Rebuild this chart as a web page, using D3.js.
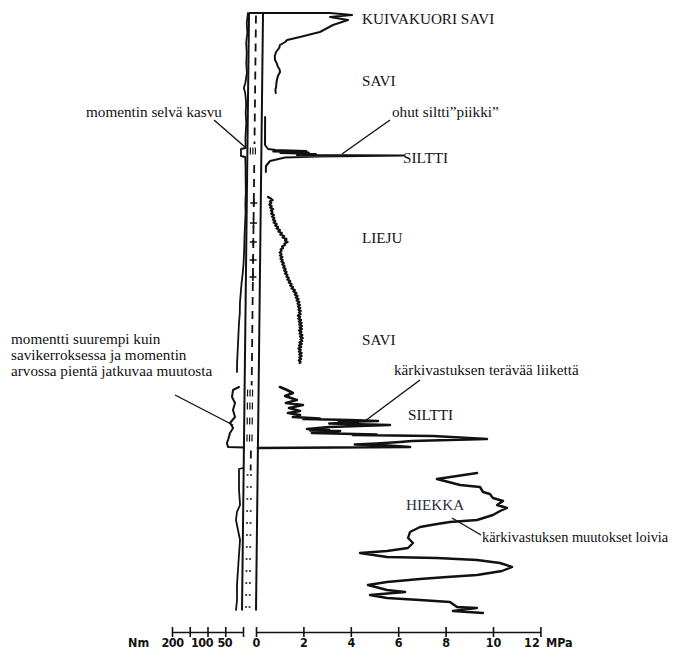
<!DOCTYPE html>
<html><head><meta charset="utf-8">
<script src="https://cdn.jsdelivr.net/npm/d3@7"></script>
<style>body{margin:0;background:#fff}svg{display:block}</style>
</head><body>
<svg id="c" width="678" height="659"></svg>
<script>
// ---- DATA (depth [m-units], value) ----
// cone resistance qc [MPa]
const qcTop = [[0,0],[0,2.83],[0.04,3.76],[0.08,2.83],[0.14,3.59],[0.24,2.96],[0.38,2.41],[0.48,1.57],[0.54,1.03],[0.58,0.95],[0.64,0.73],[0.70,0.70],[0.78,0.57],[0.86,0.52],[0.94,0.53],[1.0,0.6],[1.08,0.66],[1.12,0.72],[1.18,0.75],[1.26,0.66],[1.34,0.62],[1.4,0.6],[1.48,0.59],[1.54,0.56],[1.6,0.58]];
const qcSpike = [[2.08,0.14],[2.64,0.15],[2.72,0.28],[2.74,0.6],[2.76,1.9],[2.77,0.5],[2.79,2.0],[2.80,0.8],[2.82,2.3],[2.84,1.5],[2.85,6.0],[2.87,2.4],[2.89,1.0],[2.96,0.37],[3.06,0.2],[3.18,0.2]];
const qcMid = [[3.68,0.30],[3.71,0.42],[3.74,0.50],[3.77,0.38],[3.80,0.44],[3.83,0.36],[3.86,0.46],[3.89,0.40],[3.92,0.52],[3.95,0.43],[3.98,0.50],[4.01,0.44],[4.04,0.56],[4.07,0.48],[4.10,0.58],[4.13,0.52],[4.16,0.62],[4.19,0.55],[4.22,0.68],[4.25,0.62],[4.28,0.74],[4.31,0.68],[4.34,0.82],[4.37,0.76],[4.40,0.90],[4.43,0.84],[4.46,1.0],[4.49,0.94],[4.52,1.1],[4.55,1.04],[4.58,1.15],[4.61,1.02],[4.64,1.04],[4.67,0.92],[4.70,0.96],[4.73,0.86],[4.76,0.90],[4.79,0.82],[4.82,0.90],[4.85,0.84],[4.88,0.94],[4.91,0.86],[4.94,0.95],[4.97,0.90],[5.0,1.0],[5.03,0.94],[5.06,1.04],[5.09,0.98],[5.12,1.08],[5.15,1.02],[5.18,1.12],[5.21,1.06],[5.24,1.16],[5.27,1.12],[5.30,1.22],[5.33,1.16],[5.36,1.28],[5.39,1.22],[5.42,1.34],[5.45,1.28],[5.48,1.40],[5.51,1.34],[5.54,1.48],[5.57,1.42],[5.60,1.55],[5.63,1.48],[5.66,1.60],[5.69,1.52],[5.72,1.64],[5.75,1.56],[5.78,1.68],[5.81,1.60],[5.84,1.70],[5.87,1.62],[5.90,1.72],[5.93,1.64],[5.96,1.74],[5.99,1.66],[6.02,1.74],[6.05,1.62],[6.08,1.72],[6.11,1.64],[6.14,1.76],[6.17,1.66],[6.20,1.78],[6.23,1.68],[6.26,1.80],[6.29,1.70],[6.32,1.80],[6.35,1.68],[6.38,1.78],[6.41,1.70],[6.44,1.82],[6.47,1.72],[6.50,1.84],[6.53,1.74],[6.56,1.82],[6.59,1.70],[6.62,1.80],[6.65,1.68],[6.68,1.78],[6.71,1.66],[6.74,1.76],[6.77,1.68],[6.80,1.80],[6.83,1.70],[6.86,1.80],[6.89,1.70],[6.92,1.78],[6.95,1.68],[6.98,1.76],[7.0,1.72]];
const qcSilt = [[7.48,0.90],[7.54,1.20],[7.60,1.45],[7.66,1.12],[7.74,1.62],[7.80,1.16],[7.84,1.88],[7.90,1.29],[7.96,1.76],[8.00,1.25],[8.04,1.76],[8.08,1.46],[8.11,2.6],[8.12,1.9],[8.14,3.87],[8.16,5.05],[8.18,3.4],[8.19,4.21],[8.21,3.0],[8.24,5.56],[8.28,3.0],[8.32,2.06],[8.34,3.0],[8.35,2.2],[8.36,3.46],[8.40,2.27],[8.43,5.0],[8.44,4.0],[8.46,7.38],[8.52,9.66],[8.56,6.5],[8.58,5.99],[8.61,5.0],[8.63,4.09],[8.65,5.5],[8.68,6.42],[8.70,0]];
const qcSand = [[9.2,9.26],[9.32,7.57],[9.44,8.55],[9.48,9.39],[9.58,9.52],[9.62,9.81],[9.70,9.94],[9.76,10.37],[9.84,10.12],[9.90,10.54],[9.96,10.25],[10.04,9.95],[10.14,9.28],[10.18,8.14],[10.22,7.60],[10.28,6.88],[10.38,6.46],[10.50,6.38],[10.60,6.59],[10.70,6.38],[10.76,5.50],[10.80,4.36],[10.88,5.50],[10.90,7.61],[10.94,9.30],[11.0,10.27],[11.08,10.78],[11.16,10.36],[11.24,9.31],[11.28,8.04],[11.32,6.90],[11.38,5.51],[11.44,4.71],[11.54,5.52],[11.58,6.28],[11.64,4.80],[11.70,5.52],[11.74,6.91],[11.78,8.18],[11.88,8.48],[11.90,9.32],[11.96,8.31],[12.0,9.58]];
// torque [Nm]
const tqTop = [[0,3],[0.2,6],[0.4,4],[0.6,7],[0.8,5],[1.0,6],[1.2,4],[1.4,8],[1.5,12],[1.6,8],[1.8,5],[2.0,6],[2.2,4],[2.5,6],[2.7,5],[2.72,18],[2.86,18],[2.88,6],[3.0,5],[3.3,4],[3.6,3],[3.8,4],[4.0,3],[4.4,5],[4.8,6],[5.0,7],[5.2,9],[5.4,12],[5.6,14],[5.8,16],[6.0,16],[6.2,18],[6.4,19],[6.6,20],[6.8,21],[7.0,22],[7.18,22]];
const tqSilt = [[7.48,15.7],[7.54,32.6],[7.68,35.2],[7.80,26.5],[7.94,32],[8.08,26],[8.20,40],[8.30,31],[8.40,39.7],[8.54,45],[8.60,48],[8.68,44.8],[8.69,0]];
const tqSand = [[9.10,2],[9.12,13.2],[9.54,12.4],[9.84,9],[9.98,17.5],[10.14,20],[10.34,14],[10.54,7.9],[10.84,10.4],[11.14,12.7],[11.44,15],[11.74,14.4],[11.94,16.9]];
// rod marker depths
const plusDepths = [3.8, 4.2, 4.58, 4.94, 5.28];
const barDepths = [2.76, 7.6, 7.86, 8.16, 8.5];
// axis ticks
const mpaTicks = [0,2,4,6,8,10,12];
const nmTicks = [0,50,100,150,200];
const nmLabels = [200,100,50];
// layer labels
const layers = [["KUIVAKUORI SAVI",0.22],["SAVI",1.46],["SILTTI",3.0],["LIEJU",4.6],["SAVI",6.64],["SILTTI",8.14],["HIEKKA",9.94]];

// ---- DRAW ----
const svg = d3.select("#c");
svg.append("rect").attr("width",678).attr("height",659).attr("fill","#fff");
const y = d3.scaleLinear().domain([0,12]).range([13,613]);
const qcX = d3.scaleLinear().domain([0,12]).range([263,263+12*23.7]);
const tqX = d3.scaleLinear().domain([0,200]).range([249,249-200*0.355]);
const K = -0.0117;
const g = svg.append("g").attr("transform",`matrix(1,0,${K},1,${-K*13},0)`);

const qcLine = d3.line().x(d=>qcX(d[1])).y(d=>y(d[0]));
const tqLine = d3.line().x(d=>tqX(d[1])).y(d=>y(d[0]));
const ink = "#111";
function path(data, gen, w){
  g.append("path").attr("d",gen(data)).attr("fill","none").attr("stroke",ink)
   .attr("stroke-width",w).attr("stroke-linejoin","round").attr("stroke-linecap","round");
}
// rod
const rodBot = 11.95;
[qcX(0), tqX(0)].forEach(x=>{
  g.append("line").attr("x1",x).attr("x2",x).attr("y1",y(0)).attr("y2",y(rodBot))
   .attr("stroke",ink).attr("stroke-width",2);
});
g.append("line").attr("x1",tqX(0)).attr("x2",qcX(0)).attr("y1",y(0)).attr("y2",y(0)).attr("stroke",ink).attr("stroke-width",2);
// inner dashed line
const xm = 256;
[[0.05,2.62],[3.04,3.7],[3.7,5.4],[5.4,7.45],[8.75,9.15]].forEach(s=>{
  g.append("line").attr("x1",xm).attr("x2",xm).attr("y1",y(s[0])).attr("y2",y(s[1]))
   .attr("stroke",ink).attr("stroke-width",1.8).attr("stroke-dasharray","8,6");
});
plusDepths.forEach(d=>{
  g.append("line").attr("x1",xm-3.5).attr("x2",xm+3.5).attr("y1",y(d)).attr("y2",y(d)).attr("stroke",ink).attr("stroke-width",1.6);
  g.append("line").attr("x1",xm).attr("x2",xm).attr("y1",y(d)-4).attr("y2",y(d)+4).attr("stroke",ink).attr("stroke-width",1.6);
});
barDepths.forEach(d=>{
  [252,254.5,257].forEach(x=>{
    g.append("line").attr("x1",x).attr("x2",x).attr("y1",y(d)-3.5).attr("y2",y(d)+3.5).attr("stroke",ink).attr("stroke-width",1.2);
  });
});
d3.range(9.24,11.95,0.24).forEach(d=>{
  [253,256.5].forEach(x=>{
    g.append("rect").attr("x",x-0.9).attr("y",y(d)-0.9).attr("width",1.8).attr("height",1.8).attr("fill","#444");
  });
});
// curves
path(qcTop,qcLine,2);
path(qcSpike,qcLine,2);
path(qcMid,qcLine,2.2);
path(qcSilt,qcLine,2.6);
path(qcSand,qcLine,2.4);
path(tqTop,tqLine,1.8);
path(tqSilt,tqLine,2);
path(tqSand,tqLine,1.8);

// ---- TEXT ----
const serif = "'Liberation Serif','Times New Roman',serif";
layers.forEach(([t,d])=>{
  const xx = t==="HIEKKA"?406:(t==="SILTTI"?(d<5?403:408):362);
  svg.append("text").attr("x",xx).attr("y",y(d)).text(t)
   .attr("font-family",serif).attr("font-size",15.2).attr("fill",t==="HIEKKA"?"#2b2b45":ink);
});
const notes = [
  ["momentin selvä kasvu",86,117,15.2],
  ["ohut siltti\u201dpiikki\u201d",392,117,15.2],
  ["momentti suurempi kuin",11,344,15.2],
  ["savikerroksessa ja momentin",11,360,15.2],
  ["arvossa pientä jatkuvaa muutosta",11,376,15.2],
  ["kärkivastuksen terävää liikettä",394,375,15.2],
  ["kärkivastuksen muutokset loivia",482,542,14.4]
];
notes.forEach(([t,x,yy,fs])=>{
  svg.append("text").attr("x",x).attr("y",yy).text(t)
   .attr("font-family",serif).attr("font-size",fs).attr("fill",ink);
});
const leaders = [[214,120,245,147],[390,120,342,154],[420,380,365,421],[175,395,233,425],[452,518,481,535]];
leaders.forEach(l=>{
  svg.append("line").attr("x1",l[0]).attr("y1",l[1]).attr("x2",l[2]).attr("y2",l[3]).attr("stroke",ink).attr("stroke-width",1.4);
});

// ---- AXES ----
const sans = "'DejaVu Sans Condensed','DejaVu Sans',sans-serif";
const mpaScale = d3.scaleLinear().domain([0,12]).range([256,540.4]);
const nmScale = d3.scaleLinear().domain([0,200]).range([243,172]);
function styleAxis(sel){
  sel.select(".domain").attr("stroke",ink).attr("stroke-width",1.6);
  sel.selectAll(".tick line").attr("y1",-5).attr("y2",5).attr("stroke",ink).attr("stroke-width",1.6);
  sel.selectAll(".tick text").attr("y",15).attr("dy",null).attr("font-family",sans)
     .attr("font-weight","bold").attr("font-size",12.5).attr("fill",ink);
}
const ax1 = svg.append("g").attr("transform","translate(0,632)")
  .call(d3.axisBottom(mpaScale).tickValues(mpaTicks).tickSizeOuter(0).tickFormat(d3.format("d")));
styleAxis(ax1);
ax1.selectAll(".tick text").attr("dx",d=>d===12?-9:0);
const ax2 = svg.append("g").attr("transform","translate(0,632)")
  .call(d3.axisBottom(nmScale).tickValues(nmTicks).tickSizeOuter(0).tickFormat(d=>nmLabels.includes(d)?d:""));
styleAxis(ax2);
ax2.selectAll(".tick text").attr("dx",d=>d===100?-6:(d===50?-1:0)).attr("letter-spacing",-0.5);
svg.append("text").attr("x",128).attr("y",647).text("Nm").attr("font-family",sans).attr("font-weight","bold").attr("font-size",12.5).attr("fill",ink);
svg.append("text").attr("x",546).attr("y",647).text("MPa").attr("font-family",sans).attr("font-weight","bold").attr("font-size",12.5).attr("fill",ink);
</script>
</body></html>
